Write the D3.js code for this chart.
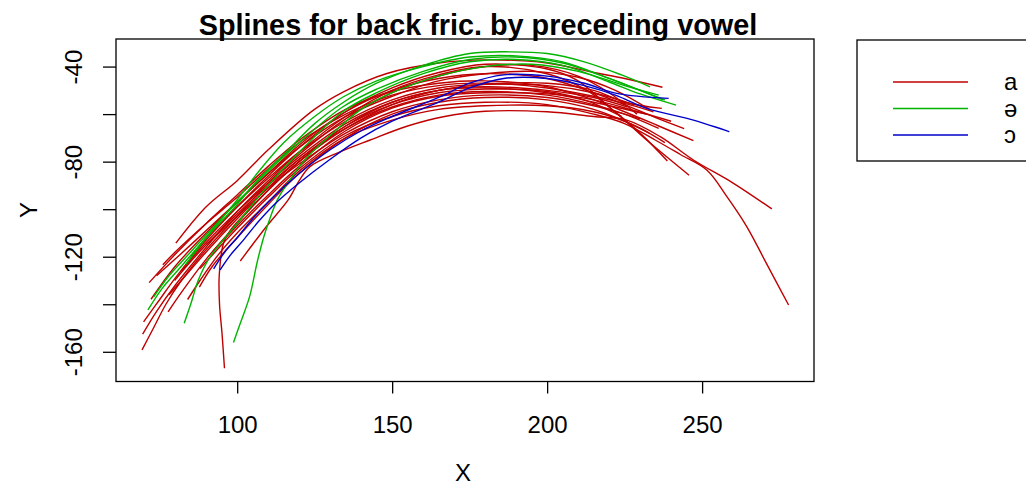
<!DOCTYPE html>
<html>
<head>
<meta charset="utf-8">
<script src="https://cdn.jsdelivr.net/npm/d3@7"></script>
<style>
body { margin: 0; background: #fff; }
text { font-family: "Liberation Sans", Arial, sans-serif; fill: #000; }
</style>
</head>
<body>
<script>
var width = 1026,
    height = 485,
    plotLeft = 116,
    plotRight = 814,
    plotTop = 39,
    plotBottom = 381.5
;

var vowels = ["a", "ə", "ɔ"];
var vowelColors = ["#bf0000", "#00b400", "#0000c8"];
var xTicks = [100, 150, 200, 250];
var yTicks = [-40, -60, -80, -100, -120, -140, -160];
var yLabels = [-40, -80, -120, -160];

// splines after "a"
var splinesA = [
    [[80.2,-114.3],[90,-99],[100,-88],[110,-75],[124.6,-58.3],[134.3,-50.6],[148.3,-42.9],[165,-38.5],[180,-37.2],[200,-38.5],[215,-42.5],[225,-45],[237.2,-48.7]],
    [[101,-121.8],[109,-108],[116.5,-96],[120,-88],[123.5,-82.1],[133,-76],[142.9,-70.9],[155,-65],[166.5,-61.1],[180,-58.8],[200,-59],[215,-61],[225.7,-62.5],[236.5,-69.5],[247.2,-79.3],[260,-89],[272.5,-99.9]],
    [[95.9,-166.9],[95.1,-152.2],[94.3,-140],[94.2,-128],[95.6,-114.3],[98,-108.5],[104,-100],[110,-92],[120,-80],[135,-66],[150,-56],[165,-50],[180,-47.5],[200,-47],[215,-50],[225,-55],[237,-57.6]],
    [[69.3,-159.2],[73,-150],[77,-140],[82,-130],[90,-117],[100,-103],[110,-89],[120,-77],[135,-62],[150,-51],[165,-44],[180,-40],[195,-39.5],[210,-44],[220,-51],[229,-60]],
    [[69.5,-152.6],[74,-143],[80,-132],[90,-116],[100,-101],[110,-88],[120,-76],[135,-61],[150,-50],[165,-43.5],[180,-40],[200,-43],[212.8,-50],[222.5,-59.7],[232.2,-71],[245.8,-85.7]],
    [[69.8,-147.4],[75,-138],[80,-129],[90,-113],[100,-99],[110,-86],[120,-74],[135,-59],[150,-49],[165,-42.5],[180,-39],[200,-41],[209.6,-45.7],[220.3,-57.3],[230,-68],[238.8,-79.7]],
    [[72.2,-137.9],[80,-124],[90,-110],[100,-97],[110,-85],[120,-73],[135,-59],[150,-50],[165,-45],[180,-43],[200,-45],[215,-51],[225,-56],[235,-61.5],[244.2,-66.1]],
    [[71.6,-130.9],[80,-119],[90,-106],[100,-94],[110,-82],[120,-71],[135,-58],[150,-50.5],[165,-47],[180,-46],[200,-48.5],[215,-54],[225,-59],[236,-65],[247.2,-71.2]],
    [[76,-123.4],[80,-118],[90,-106],[100,-95],[110,-83],[120,-72],[135,-60],[150,-52],[165,-48],[180,-47],[200,-49],[215,-52.5],[225,-55.5],[234.3,-59]],
    [[77.7,-143.2],[82,-135],[90,-121],[100,-106],[110,-92],[120,-80],[135,-65],[150,-55],[165,-50],[180,-49],[200,-51],[215,-55],[232,-60]],
    [[79.8,-130],[85,-122],[90,-115],[100,-102],[110,-90],[120,-79],[135,-66],[150,-57],[165,-52],[180,-50.5],[200,-52],[215,-56],[225,-60],[236,-66]],
    [[87.8,-132.8],[92,-124],[100,-112],[110,-98],[120,-85],[135,-70],[150,-60],[165,-55],[180,-53],[200,-54],[215,-58],[230,-66],[238,-72]],
    [[85,-120],[90,-112],[100,-99],[110,-87],[120,-76],[135,-63],[150,-54],[165,-49],[180,-47.5],[200,-48],[215,-51],[228,-56]],
    [[90,-115],[100,-103],[110,-91],[120,-81],[135,-68],[150,-59],[165,-54],[180,-52],[200,-53],[215,-56.5],[225,-60],[230,-62]],
    [[74,-128],[80,-121],[90,-109],[100,-97],[110,-85],[120,-74],[135,-61],[150,-52.5],[165,-46],[180,-43],[195,-42],[210,-44.5],[222,-50],[233,-58]],
    [[82,-126],[90,-114],[100,-101],[110,-89],[120,-78],[135,-64],[150,-55],[165,-50],[180,-48.5],[200,-50],[215,-53],[226,-57]],
    [[88,-125],[95,-115],[100,-108],[110,-95],[120,-83],[135,-69],[150,-61],[165,-56.5],[180,-55],[200,-56],[215,-60],[225,-64],[235,-71],[243,-77],[251.5,-83.5],[258,-94.7],[264.4,-107.3],[270.7,-122.7],[277.9,-140.3]],
    [[92,-118],[100,-107],[110,-94],[120,-82],[135,-67],[150,-57.5],[165,-52.5],[180,-51],[200,-51.5],[215,-54],[228,-58.5],[240,-63]],
    [[78,-136],[84,-127],[90,-118],[100,-104],[110,-91],[120,-79],[135,-65],[150,-56],[165,-51],[180,-49.5],[200,-50.5],[212,-54],[224,-61]],
    [[84,-138],[88,-130],[94,-119],[100,-110],[110,-97],[120,-84],[135,-70],[150,-62.5],[165,-58],[180,-56.5],[200,-56.5],[215,-59],[225,-63],[233,-68]]
];

// splines after "ə"
var splinesSchwa = [
    [[71.2,-142.4],[76,-133],[82,-124],[90,-112],[100,-98],[106.4,-88],[115,-77],[125,-64],[134.3,-55],[145,-47],[160,-39.5],[175,-34.5],[188,-33.8],[200,-34.5],[212,-38],[224,-43.5],[233.2,-48.5]],
    [[83.5,-123.1],[90,-112],[100,-96],[106.4,-85],[115,-72],[125,-61],[134.3,-52.7],[145,-46],[160,-40],[175,-36],[190,-35.5],[205,-38],[220,-45],[230,-50],[238,-54]],
    [[82.9,-148],[85,-140],[87.5,-129.7],[91.3,-120],[100,-106],[110,-90],[120,-76],[134,-59],[145,-51],[160,-43],[175,-38],[190,-37],[205,-39.5],[220,-46.5],[230,-51.5],[241.6,-56.2]],
    [[98.8,-156.1],[101,-148],[104,-136.8],[106.5,-122],[108.5,-112],[110,-106],[113,-96],[117,-87.7],[122,-79],[130,-69],[140,-58],[150,-51],[165,-44],[180,-40],[195,-39],[210,-42],[225,-48],[236,-52]],
    [[73,-137],[78,-128],[85,-118],[92,-108],[100,-97],[110,-84],[120,-72],[134,-57],[145,-49.5],[160,-42],[175,-37],[190,-36],[205,-38.5],[220,-45],[228,-49],[237.4,-54]]
];

// splines after "ɔ"
var splinesO = [
    [[92.4,-125.1],[96,-118],[100,-112],[105,-104],[110,-97],[120,-85],[130,-75],[140,-67],[150,-61],[165,-53],[175,-47],[186,-43.5],[200,-44],[212,-47],[222.5,-51.3],[239.2,-53.4]],
    [[94.5,-125.5],[98,-119],[102,-113],[107,-105],[112,-98],[120,-89],[130,-79],[140,-70],[150,-63],[165,-55],[175,-49],[186,-45],[200,-45],[212,-48],[222,-52],[232.2,-57.6],[247.2,-62.5],[258.8,-67.4]]
];

var svg = d3.select("body").append("svg")
    .attr("width", width)
    .attr("height", height)
;

var x = d3.scaleLinear()
    .domain([60.9, 286.1])
    .range([plotLeft, plotRight])
;

var y = d3.scaleLinear()
    .domain([-172.5, -28.4])
    .range([plotBottom, plotTop])
;

var line = d3.line()
    .x(d => x(d[0]))
    .y(d => y(d[1]))
    .curve(d3.curveCatmullRom.alpha(0.5))
;

// curves
var groups = [splinesA, splinesSchwa, splinesO];
groups.forEach(function (curves, i) {
    svg.append("g")
        .selectAll("path")
        .data(curves)
        .join("path")
        .attr("d", line)
        .attr("fill", "none")
        .attr("stroke", vowelColors[i])
        .attr("stroke-width", 1.4)
    ;
});

// box
svg.append("rect")
    .attr("x", plotLeft)
    .attr("y", plotTop)
    .attr("width", plotRight - plotLeft)
    .attr("height", plotBottom - plotTop)
    .attr("fill", "none")
    .attr("stroke", "#000")
    .attr("stroke-width", 1.3)
;

// axes
var xAxis = d3.axisBottom(x)
    .tickValues(xTicks)
    .tickSize(12)
    .tickSizeOuter(0)
    .tickPadding(22)
;
var gx = svg.append("g")
    .attr("transform", `translate(0,${plotBottom})`)
    .call(xAxis);
gx.select(".domain").remove();
gx.selectAll("line").attr("stroke-width", 1.3);
gx.selectAll("text")
    .attr("font-size", 24)
    .attr("font-family", "Liberation Sans, Arial, sans-serif")
;

var yAxis = d3.axisLeft(y)
    .tickValues(yTicks)
    .tickSize(13)
    .tickSizeOuter(0)
    .tickFormat(d => yLabels.indexOf(d) >= 0 ? d : "")
;
var gy = svg.append("g")
    .attr("transform", `translate(${plotLeft},0)`)
    .call(yAxis);
gy.select(".domain").remove();
gy.selectAll("line").attr("stroke-width", 1.3);
gy.selectAll("text")
    .attr("font-size", 24)
    .attr("font-family", "Liberation Sans, Arial, sans-serif")
    .attr("transform", "rotate(-90)")
    .attr("x", 0)
    .attr("y", -34)
    .attr("dy", 0)
    .attr("text-anchor", "middle")
;

// titles
svg.append("text")
    .attr("x", 478)
    .attr("y", 35)
    .attr("text-anchor", "middle")
    .attr("font-weight", "bold")
    .attr("font-size", 28.8)
    .text("Splines for back fric. by preceding vowel")
;

svg.append("text")
    .attr("x", 463)
    .attr("y", 481)
    .attr("text-anchor", "middle")
    .attr("font-size", 24)
    .text("X")
;

svg.append("text")
    .attr("transform", "translate(37,210) rotate(-90)")
    .attr("text-anchor", "middle")
    .attr("font-size", 24)
    .text("Y")
;

// legend
svg.append("rect")
    .attr("x", 857)
    .attr("y", 40)
    .attr("width", 200)
    .attr("height", 121)
    .attr("fill", "none")
    .attr("stroke", "#000")
    .attr("stroke-width", 1.3)
;

var legendY = d3.scalePoint()
    .domain(vowels)
    .range([82, 135])
;

vowels.forEach(function (v, i) {
    svg.append("line")
        .attr("x1", 893)
        .attr("x2", 968)
        .attr("y1", legendY(v))
        .attr("y2", legendY(v))
        .attr("stroke", vowelColors[i])
        .attr("stroke-width", 1.4)
    ;
    svg.append("text")
        .attr("x", 1004)
        .attr("y", legendY(v))
        .attr("dy", "0.35em")
        .attr("font-size", 24)
        .text(v)
    ;
});
</script>
</body>
</html>
